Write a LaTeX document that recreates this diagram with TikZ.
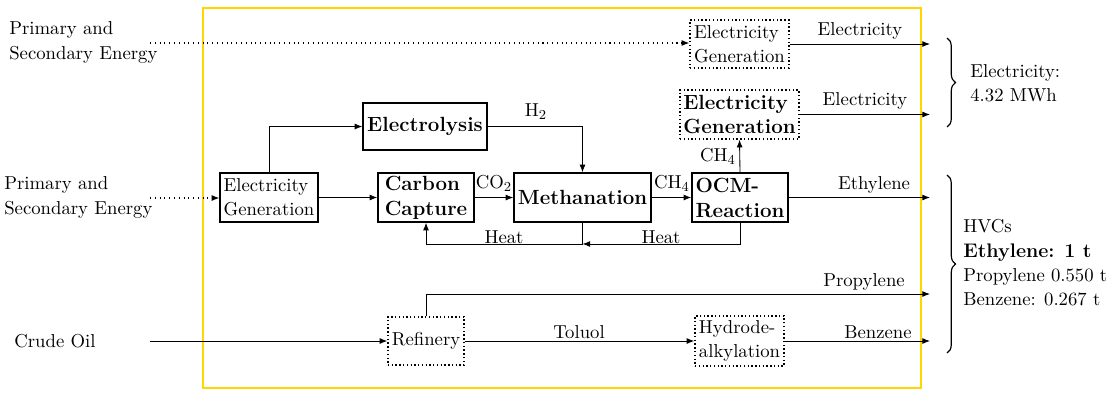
\documentclass[tikz,border=0pt]{standalone}
\usepackage{fontspec}
\usetikzlibrary{arrows.meta,decorations.pathreplacing,calc}
\definecolor{frameyellow}{RGB}{255,214,0}
\begin{document}
\begin{tikzpicture}[x=0.585pt,y=-0.585pt,
  rfont/.style={font=\fontsize{10.95}{14.2}\selectfont},
  bfont/.style={font=\fontsize{12}{14.6}\selectfont\bfseries},
  box/.style={draw, thick, align=left, inner sep=1pt},
  dbox/.style={draw, thick, dash pattern=on 0.8pt off 1.4pt, align=left, inner sep=1pt},
  txt/.style={rfont, inner sep=0pt, align=left},
  conn/.style={-{Latex[length=4.5pt,width=3.5pt]}, line width=0.5pt},
  dotconn/.style={conn, line width=0.6pt, dash pattern=on 0.6pt off 2.2pt},
  brc/.style={decorate, decoration={brace, amplitude=5pt}, line width=0.7pt}]
\useasboundingbox (0,0) rectangle (1111,392);
\draw[frameyellow, line width=1.7pt] (203,8) rectangle (921,388);

% process boxes
\node[dbox,rfont,minimum width=57.9pt,minimum height=28.1pt] (eg1) at (739.5,44) {Electricity\\Generation};
\node[dbox,bfont,minimum width=69.6pt,minimum height=28.7pt] (eg2) at (739.5,114.5) {Electricity\\Generation};
\node[box,bfont,minimum width=72.5pt,minimum height=27.5pt] (elys) at (425,126.5) {Electrolysis};
\node[box,rfont,minimum width=57.3pt,minimum height=28.7pt] (egl) at (269,197.5) {Electricity\\Generation};
\node[box,bfont,minimum width=56.2pt,minimum height=28.7pt] (cc) at (426,197.5) {Carbon\\Capture};
\node[box,bfont,minimum width=80.1pt,minimum height=28.7pt] (meth) at (582.5,197.5) {Methanation};
\node[box,bfont,minimum width=56.2pt,minimum height=28.7pt] (ocm) at (740,197.5) {OCM-\\Reaction};
\node[dbox,rfont,minimum width=44.5pt,minimum height=28.1pt] (ref) at (426,341) {Refinery};
\node[dbox,rfont,minimum width=52.1pt,minimum height=29.3pt] (hda) at (739.5,341) {Hydrode-\\alkylation};

% side texts
\node[txt,anchor=west] (pe1) at (9,42.5) {Primary and\\Secondary Energy};
\node[txt,anchor=west] (pe2) at (4,197.5) {Primary and\\Secondary Energy};
\node[txt,anchor=west] (crude) at (14,341) {Crude Oil};
\node[txt,anchor=west] (elsum) at (970,83) {Electricity:\\4.32 MWh};
\node[txt,anchor=west] (hvc) at (963,263) {HVCs\\{\fontsize{11.5}{14.2}\selectfont\bfseries Ethylene: 1 t}\\Propylene 0.550 t\\Benzene: 0.267 t};

% free ends
\coordinate (s1) at (150,43);
\coordinate (s2) at (150,198);
\coordinate (s3) at (150,341);
\coordinate (xo) at (930,0);
\coordinate (hy) at (0,244);
\coordinate (py) at (0,294);

% connectors
\draw[dotconn] (s1) -- (s1 -| eg1.west);
\draw[dotconn] (s2) -- (s2 -| egl.west);
\draw[conn] (s3) -- (ref.west);
\draw[conn] (eg1.east) -- (eg1.east -| xo);
\draw[conn] (eg2.east) -- (eg2.east -| xo);
\draw[conn] (ocm.east) -- (ocm.east -| xo);
\draw[conn] (egl.east) -- (cc.west);
\draw[conn] (cc.east) -- (meth.west);
\draw[conn] (meth.east) -- (ocm.west);
\draw[conn] (ocm.north) -- (eg2.south);
\draw[conn] (egl.north) |- (elys.west);
\draw[conn] (elys.east) -| (meth.north);
\draw[conn] (meth.south) -- (meth.south |- hy) -| (cc.south);
\draw[conn] (ocm.south) -- (ocm.south |- hy) -- (meth.south |- hy);
\draw[conn] (ref.north) -- (ref.north |- py) -- (xo |- py);
\draw[conn] (ref.east) -- (hda.west);
\draw[conn] (hda.east) -- (hda.east -| xo);

% labels
\node[txt] (l1) at (860,31) {Electricity};
\node[txt] (l2) at (865,101) {Electricity};
\node[txt,anchor=base] (lh2) at (536,116.5) {H$_2$};
\node[txt,anchor=base] (lco2) at (494,188.5) {CO$_2$};
\node[txt,anchor=base] (lch4a) at (672,188.5) {CH$_4$};
\node[txt,anchor=base] (lch4b) at (718,161.5) {CH$_4$};
\node[txt] (lheat1) at (504,237) {Heat};
\node[txt] (lheat2) at (661,237) {Heat};
\node[txt] (leth) at (874,185) {Ethylene};
\node[txt] (lprop) at (864,282) {Propylene};
\node[txt] (ltol) at (579,332) {Toluol};
\node[txt] (lben) at (878,332) {Benzene};

% braces
\draw[brc] (947,38) -- (947,127);
\draw[brc] (947,175) -- (947,353);
\end{tikzpicture}
\end{document}
